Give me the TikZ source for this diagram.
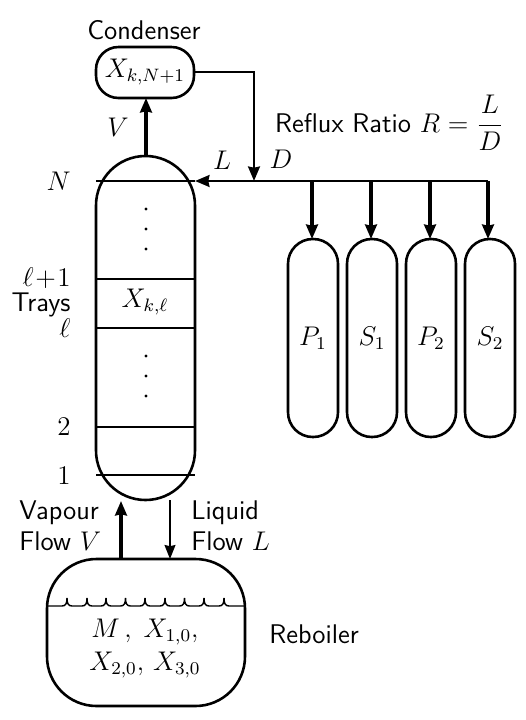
\documentclass[tikz,border=0pt,12pt]{standalone}
\usepackage{tikz}
\usetikzlibrary{arrows.meta,positioning}
\renewcommand{\familydefault}{\sfdefault}

\begin{document}
\begin{tikzpicture}[
        x=0.4444pt, y=-0.4444pt,
        vessel/.style={draw, line width=1.15pt, rounded corners=#1},
        vessel/.default=11pt,
        flow/.style={line width=1.6pt, -{Stealth[length=6.4pt,width=5.2pt,inset=0.5pt]}},
        thinflow/.style={line width=0.9pt, -{Stealth[length=6.2pt,width=4.8pt,inset=0.5pt]}},
        tray/.style={line width=0.8pt},
        tag/.style={inner sep=0pt, anchor=base east},
        lefttag/.style={inner sep=0pt, anchor=base west},
        dot/.style={circle, fill=black, inner sep=0pt, minimum size=1.4pt}
    ]
    \useasboundingbox (0,0) rectangle (525,720);

    % column, condenser, reboiler
    \draw[vessel=22pt] (96,156) rectangle (195,500);
    \draw[vessel=10pt] (96,47) rectangle (194,98);
    \draw[vessel=22pt] (47,559) rectangle (245,706);
    \node at (144,30) {Condenser};
    \node at (145,72) {$X_{k,N+1}$};
    \node at (145,302) {$X_{k,\ell}$};

    % trays
    \coordinate (feed) at (195,181);
    \draw[tray] (96,181) -- (feed);
    \foreach \y in {279,328,427,475} {
        \draw[tray] (96,\y) -- (195,\y);
    }
    \foreach \y in {209,229,249,356,376,396} {
        \node[dot] at (146,\y) {};
    }

    \node[tag] at (71,190) {$N$};
    \node[tag] at (71,286) {$\ell\!+\!1$};
    \node[tag] at (71,311) {Trays};
    \node[tag] at (71,337) {$\ell$};
    \node[tag] at (71,435) {$2$};
    \node[tag] at (71,484) {$1$};

    % product tanks
    \foreach \x/\name in {288/P_1,347/S_1,406/P_2,465/S_2} {
        \draw[vessel=11pt] (\x,239) rectangle ++(50,198);
        \node at (\x+25,338) {$\name$};
    }

    % overhead
    \coordinate (split) at (254,181);
    \coordinate (lineend) at (488,181);
    \draw[flow] (146,156) -- (146,98);
    \draw[flow, line width=1.25pt] (194,72) -| (split);
    \draw[flow, line width=1.25pt] (lineend) -- (feed);
    \foreach \x in {312,371,430,488} {
        \draw[flow] (\x,181) -- (\x,239);
    }
    \node at (118,127) {$V$};
    \node at (222,160) {$L$};
    \node at (281,159) {$D$};
    \node at (389.5,123) {Reflux Ratio $R=\displaystyle\frac{L}{D}$};

    % bottom
    \draw[flow] (121,559) -- (121,501);
    \draw[thinflow] (170,500) -- (170,559);
    \node[lefttag] at (19,519) {Vapour};
    \node[lefttag] at (19,550) {Flow $V$};
    \node[lefttag] at (191,519) {Liquid};
    \node[lefttag] at (191,550) {Flow $L$};

    % liquid level
    \draw[line width=0.65pt] (47,606)
        \foreach \x in {67,87,106,125.5,145,165,184.5,204,224} {
            -- (\x-5,606) .. controls (\x-1,606) and (\x,603) .. (\x,598)
            .. controls (\x,603) and (\x+1,606) .. (\x+5,606)
        } -- (245,606);
    \node[anchor=base] at (145,637) {$M\,,\; X_{1,0},$};
    \node[anchor=base] at (145,670) {$X_{2,0},\, X_{3,0}$};
    \node[lefttag] at (269,643) {Reboiler};
\end{tikzpicture}
\end{document}
